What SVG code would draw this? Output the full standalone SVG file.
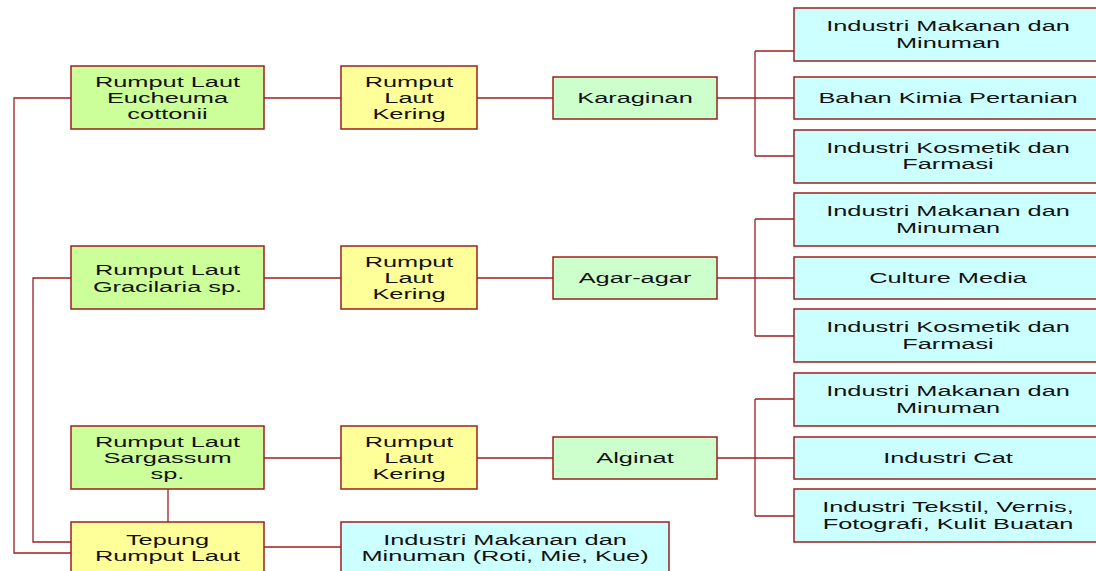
<svg xmlns="http://www.w3.org/2000/svg" width="1096" height="571" viewBox="0 0 1096 571">
<style>
rect{stroke:#9a2020;stroke-width:1.5}
.src{fill:#ccff99}
.dry{fill:#ffff99}
.prod{fill:#ccffcc}
.use{fill:#ccffff}
text{font-family:"Liberation Sans",Arial,sans-serif;font-size:15px;fill:#111;text-anchor:middle}
#connectors path{fill:none;stroke:#9a2020;stroke-width:1.3}
</style>
<rect x="0" y="0" width="1096" height="571" fill="#ffffff" style="stroke:none"/>
<g id="connectors">
<path d="M71,98 H14 V553 H71"/>
<path d="M71,278 H33 V542 H71"/>
<path d="M264,98 H341 M477,98 H553 M717,98 H794 M755,51 V156 M755,51 H794 M755,156 H794"/>
<path d="M264,278 H341 M477,278 H553 M717,278 H794 M755,219 V336 M755,219 H794 M755,336 H794"/>
<path d="M264,458 H341 M477,458 H553 M717,458 H794 M755,399 V516 M755,399 H794 M755,516 H794"/>
<path d="M168,489 V522"/>
<path d="M264,547 H341"/>
</g>
<g id="eucheuma"><rect class="src" x="71" y="66" width="193" height="63"/>
<text transform="translate(167.5 0) scale(1.69 1)"><tspan x="0" y="87">Rumput Laut</tspan><tspan x="0" y="103">Eucheuma</tspan><tspan x="0" y="119">cottonii</tspan></text></g>
<g id="kering1"><rect class="dry" x="341" y="66" width="136" height="63"/>
<text transform="translate(409 0) scale(1.69 1)"><tspan x="0" y="87">Rumput</tspan><tspan x="0" y="103">Laut</tspan><tspan x="0" y="119">Kering</tspan></text></g>
<g id="karaginan"><rect class="prod" x="553" y="77" width="164" height="42"/>
<text transform="translate(635 0) scale(1.69 1)" y="103.5">Karaginan</text></g>
<g id="k-use1"><rect class="use" x="794" y="8" width="310" height="53"/>
<text transform="translate(948 0) scale(1.69 1)"><tspan x="0" y="31.5">Industri Makanan dan</tspan><tspan x="0" y="48">Minuman</tspan></text></g>
<g id="k-use2"><rect class="use" x="794" y="77" width="310" height="42"/>
<text transform="translate(948 0) scale(1.69 1)" y="103.5">Bahan Kimia Pertanian</text></g>
<g id="k-use3"><rect class="use" x="794" y="130" width="310" height="53"/>
<text transform="translate(948 0) scale(1.69 1)"><tspan x="0" y="153">Industri Kosmetik dan</tspan><tspan x="0" y="169.5">Farmasi</tspan></text></g>

<g id="gracilaria"><rect class="src" x="71" y="246" width="193" height="63"/>
<text transform="translate(167.5 0) scale(1.69 1)"><tspan x="0" y="275">Rumput Laut</tspan><tspan x="0" y="292">Gracilaria sp.</tspan></text></g>
<g id="kering2"><rect class="dry" x="341" y="246" width="136" height="63"/>
<text transform="translate(409 0) scale(1.69 1)"><tspan x="0" y="267">Rumput</tspan><tspan x="0" y="283">Laut</tspan><tspan x="0" y="299">Kering</tspan></text></g>
<g id="agar"><rect class="prod" x="553" y="257" width="164" height="42"/>
<text transform="translate(635 0) scale(1.69 1)" y="283.5">Agar-agar</text></g>
<g id="a-use1"><rect class="use" x="794" y="193" width="310" height="53"/>
<text transform="translate(948 0) scale(1.69 1)"><tspan x="0" y="216.5">Industri Makanan dan</tspan><tspan x="0" y="233">Minuman</tspan></text></g>
<g id="a-use2"><rect class="use" x="794" y="257" width="310" height="42"/>
<text transform="translate(948 0) scale(1.69 1)" y="283.5">Culture Media</text></g>
<g id="a-use3"><rect class="use" x="794" y="309" width="310" height="53"/>
<text transform="translate(948 0) scale(1.69 1)"><tspan x="0" y="332.5">Industri Kosmetik dan</tspan><tspan x="0" y="349">Farmasi</tspan></text></g>

<g id="sargassum"><rect class="src" x="71" y="426" width="193" height="63"/>
<text transform="translate(167.5 0) scale(1.69 1)"><tspan x="0" y="447">Rumput Laut</tspan><tspan x="0" y="463.5">Sargassum</tspan><tspan x="0" y="479.5">sp.</tspan></text></g>
<g id="kering3"><rect class="dry" x="341" y="426" width="136" height="63"/>
<text transform="translate(409 0) scale(1.69 1)"><tspan x="0" y="447">Rumput</tspan><tspan x="0" y="463.5">Laut</tspan><tspan x="0" y="479.5">Kering</tspan></text></g>
<g id="alginat"><rect class="prod" x="553" y="437" width="164" height="42"/>
<text transform="translate(635 0) scale(1.69 1)" y="463.5">Alginat</text></g>
<g id="s-use1"><rect class="use" x="794" y="373" width="310" height="53"/>
<text transform="translate(948 0) scale(1.69 1)"><tspan x="0" y="396.5">Industri Makanan dan</tspan><tspan x="0" y="413">Minuman</tspan></text></g>
<g id="s-use2"><rect class="use" x="794" y="437" width="310" height="42"/>
<text transform="translate(948 0) scale(1.69 1)" y="463.5">Industri Cat</text></g>
<g id="s-use3"><rect class="use" x="794" y="489" width="310" height="53"/>
<text transform="translate(948 0) scale(1.69 1)"><tspan x="0" y="512.5">Industri Tekstil, Vernis,</tspan><tspan x="0" y="529">Fotografi, Kulit Buatan</tspan></text></g>

<g id="tepung"><rect class="dry" x="71" y="522" width="193" height="63"/>
<text transform="translate(167.5 0) scale(1.69 1)"><tspan x="0" y="545">Tepung</tspan><tspan x="0" y="561.5">Rumput Laut</tspan></text></g>
<g id="roti"><rect class="use" x="341" y="522" width="328" height="63"/>
<text transform="translate(505 0) scale(1.69 1)"><tspan x="0" y="545">Industri Makanan dan</tspan><tspan x="0" y="561.5">Minuman (Roti, Mie, Kue)</tspan></text></g>
</svg>
